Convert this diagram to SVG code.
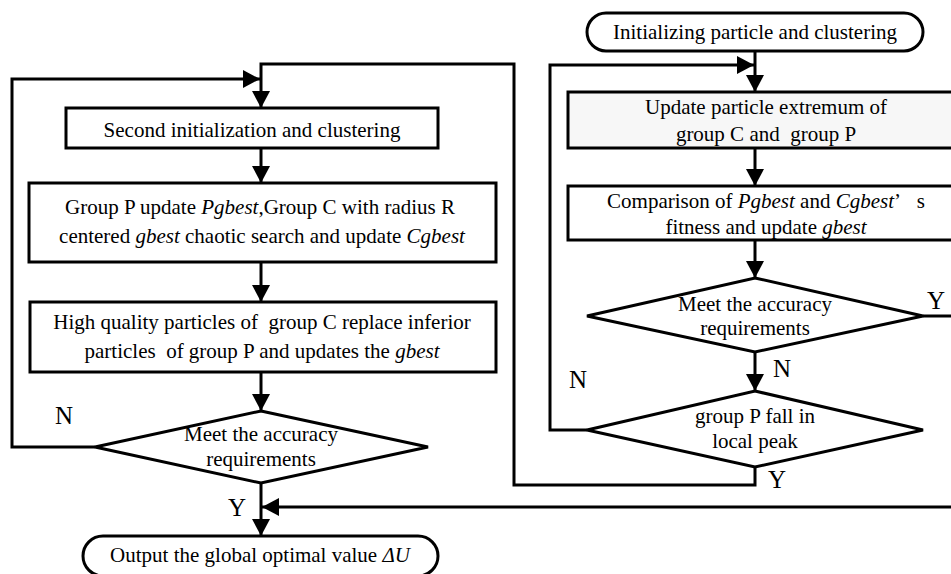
<svg xmlns="http://www.w3.org/2000/svg" width="951" height="574" viewBox="0 0 951 574">
<style>
  .box { fill: #ffffff; stroke: #000000; stroke-width: 3; }
  .shade { fill: #f7f7f7; }
  .t { font-family: "Liberation Serif", "Times New Roman", serif; font-size: 21px; fill: #000000; text-anchor: middle; }
  .lbl { font-family: "Liberation Serif", "Times New Roman", serif; font-size: 25px; fill: #000000; }
  .i { font-style: italic; }
  .conn { fill: none; stroke: #000000; stroke-width: 3; }
</style>
<defs>
  <marker id="arrow" markerUnits="userSpaceOnUse" markerWidth="18" markerHeight="18" refX="17" refY="9" orient="auto">
    <path d="M0,0 L17,9 L0,18 Z" fill="#000000"/>
  </marker>
</defs>
<rect width="951" height="574" fill="#ffffff"/>

<g id="connectors">
  <path class="conn" d="M261,148 V183" marker-end="url(#arrow)"/>
  <path class="conn" d="M261,262 V302" marker-end="url(#arrow)"/>
  <path class="conn" d="M261,372 V411" marker-end="url(#arrow)"/>
  <path class="conn" d="M261,483 V536" marker-end="url(#arrow)"/>
  <path class="conn" d="M95,447 H12 V79 H260" marker-end="url(#arrow)"/>
  <path class="conn" d="M755,467 V485 H514 V64 H261 V108" marker-end="url(#arrow)"/>
  <path class="conn" d="M755,51 V92" marker-end="url(#arrow)"/>
  <path class="conn" d="M755,148 V186" marker-end="url(#arrow)"/>
  <path class="conn" d="M755,240 V278" marker-end="url(#arrow)"/>
  <path class="conn" d="M755,352 V391" marker-end="url(#arrow)"/>
  <path class="conn" d="M587,430 H550 V65 H754" marker-end="url(#arrow)"/>
  <path class="conn" d="M923,316 H962 V507 H262" marker-end="url(#arrow)"/>
  <text class="lbl" x="55" y="424">N</text>
  <text class="lbl" x="228" y="516">Y</text>
  <text class="lbl" x="927" y="309">Y</text>
  <text class="lbl" x="773" y="377">N</text>
  <text class="lbl" x="569" y="388">N</text>
  <text class="lbl" x="768" y="488">Y</text>
</g>

<g id="start">
  <rect class="box" x="587" y="13" width="336" height="38" rx="19" ry="19"/>
  <text class="t" x="755" y="39">Initializing particle and clustering</text>
</g>

<g id="update-extremum">
  <rect class="box shade" x="568" y="92" width="396" height="56"/>
  <text class="t" x="766" y="114">Update particle extremum of</text>
  <text class="t" x="766" y="141">group C and&#160; group P</text>
</g>

<g id="compare-fitness">
  <rect class="box" x="568" y="186" width="396" height="54"/>
  <text class="t" x="766" y="208">Comparison of <tspan class="i">Pgbest</tspan> and <tspan class="i">Cgbest</tspan>’&#160;&#160; s</text>
  <text class="t" x="766" y="234">fitness and update <tspan class="i">gbest</tspan></text>
</g>

<g id="accuracy-right">
  <polygon class="box" points="755,278 923,316 755,352 587,316"/>
  <text class="t" x="755" y="311">Meet the accuracy</text>
  <text class="t" x="755" y="335">requirements</text>
</g>

<g id="local-peak">
  <polygon class="box" points="755,391 923,430 755,467 587,430"/>
  <text class="t" x="755" y="423">group P fall in</text>
  <text class="t" x="755" y="448">local peak</text>
</g>

<g id="second-init">
  <rect class="box" x="66" y="108" width="372" height="40"/>
  <text class="t" x="252" y="137">Second initialization and clustering</text>
</g>

<g id="chaotic-search">
  <rect class="box" x="29" y="183" width="467" height="79"/>
  <text class="t" x="260" y="214">Group P update <tspan class="i">Pgbest</tspan>,Group C with radius R</text>
  <text class="t" x="262" y="243">centered <tspan class="i">gbest</tspan> chaotic search and update <tspan class="i">Cgbest</tspan></text>
</g>

<g id="replace-inferior">
  <rect class="box" x="30" y="302" width="466" height="70"/>
  <text class="t" x="262" y="329">High quality particles of&#160; group C replace inferior</text>
  <text class="t" x="262" y="358">particles&#160; of group P and updates the <tspan class="i">gbest</tspan></text>
</g>

<g id="accuracy-left">
  <polygon class="box" points="261,411 428,447 261,483 95,447"/>
  <text class="t" x="261" y="441">Meet the accuracy</text>
  <text class="t" x="261" y="466">requirements</text>
</g>

<g id="output">
  <rect class="box" x="83" y="536" width="355" height="40" rx="20" ry="20"/>
  <text class="t" x="260" y="562">Output the global optimal value <tspan class="i">ΔU</tspan></text>
</g>
</svg>
